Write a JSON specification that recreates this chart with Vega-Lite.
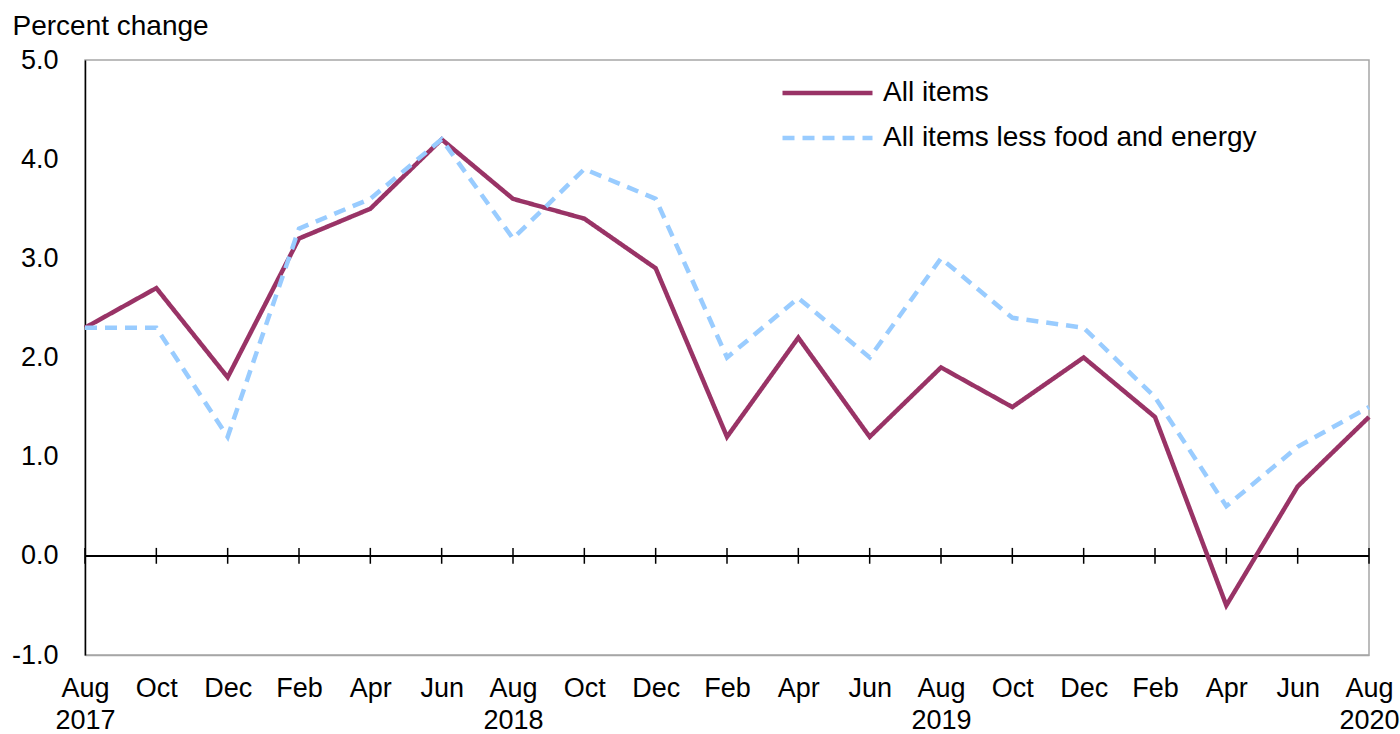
{
  "$schema": "https://vega.github.io/schema/vega-lite/v6.json",
  "width": 1284,
  "height": 595,
  "autosize": "none",
  "padding": {"left": 85, "top": 60, "right": 31, "bottom": 79},
  "background": "white",
  "config": {
    "font": "Liberation Sans",
    "view": {"stroke": "#a6a6a6", "strokeWidth": 1.5}
  },
  "data": {
    "values": [
      {"month": "Aug 2017", "series": "All items", "value": 2.3},
      {"month": "Oct 2017", "series": "All items", "value": 2.7},
      {"month": "Dec 2017", "series": "All items", "value": 1.8},
      {"month": "Feb 2018", "series": "All items", "value": 3.2},
      {"month": "Apr 2018", "series": "All items", "value": 3.5},
      {"month": "Jun 2018", "series": "All items", "value": 4.2},
      {"month": "Aug 2018", "series": "All items", "value": 3.6},
      {"month": "Oct 2018", "series": "All items", "value": 3.4},
      {"month": "Dec 2018", "series": "All items", "value": 2.9},
      {"month": "Feb 2019", "series": "All items", "value": 1.2},
      {"month": "Apr 2019", "series": "All items", "value": 2.2},
      {"month": "Jun 2019", "series": "All items", "value": 1.2},
      {"month": "Aug 2019", "series": "All items", "value": 1.9},
      {"month": "Oct 2019", "series": "All items", "value": 1.5},
      {"month": "Dec 2019", "series": "All items", "value": 2.0},
      {"month": "Feb 2020", "series": "All items", "value": 1.4},
      {"month": "Apr 2020", "series": "All items", "value": -0.5},
      {"month": "Jun 2020", "series": "All items", "value": 0.7},
      {"month": "Aug 2020", "series": "All items", "value": 1.4},
      {"month": "Aug 2017", "series": "All items less food and energy", "value": 2.3},
      {"month": "Oct 2017", "series": "All items less food and energy", "value": 2.3},
      {"month": "Dec 2017", "series": "All items less food and energy", "value": 1.2},
      {"month": "Feb 2018", "series": "All items less food and energy", "value": 3.3},
      {"month": "Apr 2018", "series": "All items less food and energy", "value": 3.6},
      {"month": "Jun 2018", "series": "All items less food and energy", "value": 4.2},
      {"month": "Aug 2018", "series": "All items less food and energy", "value": 3.2},
      {"month": "Oct 2018", "series": "All items less food and energy", "value": 3.9},
      {"month": "Dec 2018", "series": "All items less food and energy", "value": 3.6},
      {"month": "Feb 2019", "series": "All items less food and energy", "value": 2.0},
      {"month": "Apr 2019", "series": "All items less food and energy", "value": 2.6},
      {"month": "Jun 2019", "series": "All items less food and energy", "value": 2.0},
      {"month": "Aug 2019", "series": "All items less food and energy", "value": 3.0},
      {"month": "Oct 2019", "series": "All items less food and energy", "value": 2.4},
      {"month": "Dec 2019", "series": "All items less food and energy", "value": 2.3},
      {"month": "Feb 2020", "series": "All items less food and energy", "value": 1.6},
      {"month": "Apr 2020", "series": "All items less food and energy", "value": 0.5},
      {"month": "Jun 2020", "series": "All items less food and energy", "value": 1.1},
      {"month": "Aug 2020", "series": "All items less food and energy", "value": 1.5}
    ]
  },
  "layer": [
    {
      "mark": {"type": "rule", "color": "#000000", "strokeWidth": 1.5},
      "encoding": {"y": {"datum": 0, "type": "quantitative"}}
    },
    {
      "transform": [{"filter": "datum.series == 'All items'"}],
      "mark": {"type": "rule", "color": "#000000", "strokeWidth": 1.5},
      "encoding": {
        "x": {"field": "month", "type": "ordinal", "sort": null},
        "y": {"datum": -0.08, "type": "quantitative"},
        "y2": {"datum": 0.08}
      }
    },
    {
      "mark": {"type": "line", "strokeWidth": 4.5, "strokeCap": "butt", "strokeJoin": "miter"},
      "encoding": {
        "x": {
          "field": "month",
          "type": "ordinal",
          "sort": null,
          "scale": {"type": "point", "padding": 0},
          "axis": {
            "title": null,
            "labelAngle": 0,
            "labelAlign": "center",
            "labelFlush": false,
            "ticks": false,
            "domainColor": "#a6a6a6",
            "domainWidth": 1.5,
            "labelFontSize": 27,
            "labelColor": "#000000",
            "labelPadding": 20,
            "labelLineHeight": 32,
            "labelBaseline": "top",
            "labelFont": "Liberation Sans",
            "labelOverlap": false,
            "labelExpr": "indexof(datum.value, 'Aug') == 0 ? split(datum.value, ' ') : split(datum.value, ' ')[0]"
          }
        },
        "y": {
          "field": "value",
          "type": "quantitative",
          "scale": {"domain": [-1, 5], "nice": false, "zero": false},
          "axis": {
            "values": [-1, 0, 1, 2, 3, 4, 5],
            "labelExpr": "datum.value < 0 ? '-' + format(-datum.value, '.1f') : format(datum.value, '.1f')",
            "ticks": false,
            "domainColor": "#000000",
            "domainWidth": 1.5,
            "gridColor": "#a6a6a6",
            "gridWidth": 1.5,
            "labelFontSize": 27,
            "labelColor": "#000000",
            "labelPadding": 27,
            "labelFont": "Liberation Sans",
            "title": "Percent change",
            "titleAngle": 0,
            "titleAlign": "left",
            "titleBaseline": "alphabetic",
            "titleX": -73,
            "titleY": -26,
            "titleFontSize": 28,
            "titleFontWeight": "normal",
            "titleColor": "#000000",
            "titleFont": "Liberation Sans"
          }
        },
        "color": {
          "field": "series",
          "type": "nominal",
          "scale": {"domain": ["All items", "All items less food and energy"], "range": ["#993366", "#99ccff"]},
          "legend": {
            "title": null,
            "orient": "none",
            "legendX": 695,
            "legendY": 8,
            "symbolType": "M-1,0H3",
            "symbolSize": 2025,
            "symbolStrokeWidth": 4.5,
            "labelFontSize": 28,
            "labelFont": "Liberation Sans",
            "labelColor": "#000000",
            "labelOffset": 53,
            "rowPadding": 6,
            "labelLimit": 600
          }
        },
        "strokeDash": {
          "field": "series",
          "type": "nominal",
          "scale": {"domain": ["All items", "All items less food and energy"], "range": [[1, 0], [12, 8]]},
          "legend": {
            "title": null,
            "orient": "none",
            "legendX": 695,
            "legendY": 8,
            "symbolType": "M-1,0H3",
            "symbolSize": 2025,
            "symbolStrokeWidth": 4.5,
            "labelFontSize": 28,
            "labelFont": "Liberation Sans",
            "labelColor": "#000000",
            "labelOffset": 53,
            "rowPadding": 6,
            "labelLimit": 600
          }
        }
      }
    }
  ]
}
